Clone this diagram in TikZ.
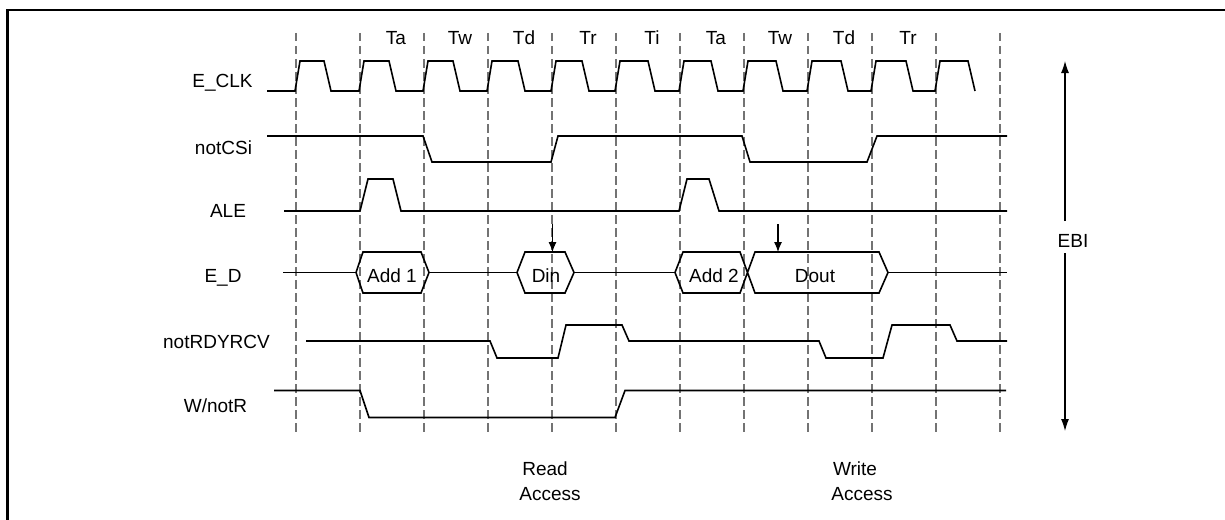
\documentclass[tikz,border=0pt]{standalone}
\usepackage{fontspec}
\setmainfont{Liberation Sans}
\usetikzlibrary{arrows.meta}
\begin{document}
\begin{tikzpicture}[x=1pt,y=-1pt,
  wave/.style={line width=1.6pt, line join=miter},
  gridline/.style={draw=black!55, line width=1.2pt, dash pattern=on 8.5pt off 4.5pt},
  lbl/.style={anchor=base, font=\fontsize{19}{22}\selectfont, inner sep=0pt},
  marker/.style={line width=1.1pt, -{Latex[length=10pt,width=8pt]}},
  ebiarrow/.style={line width=1.1pt, -{Latex[length=12pt,width=8pt]}}
]
\useasboundingbox (0,0) rectangle (1225,519);
% frame
\draw[line width=2.5pt] (7.5,520) -- (7.5,10) -- (1226,10);
% dashed grid
\foreach \k in {0,...,11} \draw[gridline] ({296+64*\k},33) -- ({296+64*\k},435);
% period labels
\foreach \t [count=\i] in {Ta,Tw,Td,Tr,Ti,Ta,Tw,Td,Tr}
  \node[lbl] (per\i) at ({360+64*(\i-1)+36},45) {\t};
% signal names
\node[lbl] (nclk) at (222.5,87.3) {E\_CLK};
\node[lbl] (ncs)  at (223.5,154) {notCSi};
\node[lbl] (nale) at (228,217) {ALE};
\node[lbl] (ned)  at (223,282) {E\_D};
\node[lbl] (nrdy) at (216.5,348) {notRDYRCV};
\node[lbl] (nwr)  at (215.5,412) {W/notR};
% E_CLK
\draw[wave] (267,91)
  \foreach \x/\h in {296/28,360/29,424/29,488/30,552/30,616/32,680/31,744/32,808/33,872/34,936/32}
  { -- ({\x-1},91) -- ({\x+4},61) -- ({\x+\h},61) -- ({\x+\h+7},91) };
% notCSi
\draw[wave] (267,136) -- (423,136) -- (432,162) -- (551,162) -- (558,136) -- (742,136)
  -- (750,162) -- (867,162) -- (877,136) -- (1007,136);
% ALE
\draw[wave] (284,211) -- (360,211) -- (368,179) -- (393,179) -- (401,211) -- (679,211)
  -- (687,179) -- (709,179) -- (719,211) -- (1007,211);
% E_D
\draw[wave] (283,272.5) -- (356,272.5);
\draw[wave] (356,272.5) -- (363,252) -- (421,252) -- (429,272.5) -- (421,293) -- (363,293) -- cycle;
\draw[wave] (429,272.5) -- (517,272.5);
\draw[wave] (517,272.5) -- (525,252) -- (565,252) -- (574,272.5) -- (565,293) -- (525,293) -- cycle;
\draw[wave] (574,272.5) -- (675,272.5);
\draw[wave] (675,272.5) -- (683,252) -- (740,252) -- (755,293) -- (879,293) -- (888,272.5)
  -- (879,252) -- (755,252) -- (740,293) -- (683,293) -- cycle;
\draw[wave] (888,272.5) -- (1007,272.5);
\node[lbl] (add1) at (392,282) {Add 1};
\node[lbl] (din)  at (546,282) {Din};
\node[lbl] (add2) at (714,282) {Add 2};
\node[lbl] (dout) at (815,282) {Dout};
\coordinate (dinTop) at (552.5,224);
\coordinate (dinHex) at (552.5,252);
\coordinate (doutTop) at (778,224);
\coordinate (doutHex) at (778,252);
\draw[marker] (dinTop) -- (dinHex);
\draw[marker] (doutTop) -- (doutHex);
% notRDYRCV
\draw[wave] (306,341) -- (490,341) -- (497,358) -- (558,358) -- (566,325) -- (622,325)
  -- (629,341) -- (819,341) -- (826,358) -- (883,358) -- (892,325) -- (950,325)
  -- (957,341) -- (1007,341);
% W/notR
\draw[wave] (274,390.5) -- (360,390.5) -- (369,417.5) -- (615,417.5) -- (625,390.5) -- (1006,390.5);
% access labels
\node[lbl] (rd1) at (545,475) {Read};
\node[lbl] (rd2) at (550,500) {Access};
\node[lbl] (wr1) at (855,475) {Write};
\node[lbl] (wr2) at (862,500) {Access};
% EBI
\node[lbl] (ebi) at (1073,247) {EBI};
\coordinate (ebiUp) at (1065,221);
\coordinate (ebiTop) at (1065,61);
\coordinate (ebiDn) at (1065,253);
\coordinate (ebiBot) at (1065,431);
\draw[ebiarrow] (ebiUp) -- (ebiTop);
\draw[ebiarrow] (ebiDn) -- (ebiBot);
\end{tikzpicture}
\end{document}
